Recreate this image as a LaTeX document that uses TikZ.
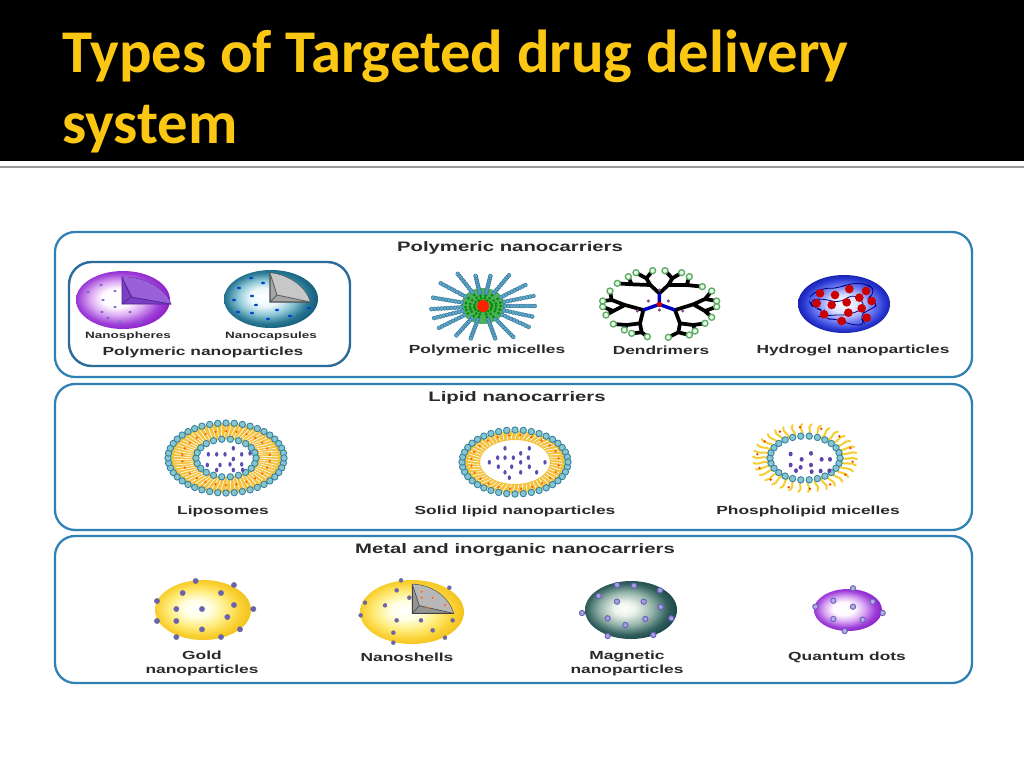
\documentclass[tikz,border=0pt]{standalone}
\usepackage{fontspec}
\setmainfont{Liberation Sans}
\newfontfamily\titlefont{Carlito}
\newfontfamily\labelfont[FakeStretch=1.48]{Liberation Sans}
\definecolor{titleyel}{HTML}{FCC713}
\definecolor{panelblue}{HTML}{2F80B4}
\definecolor{innerblue}{HTML}{2C6C9C}
\definecolor{labelink}{HTML}{2A2A2A}
\definecolor{beadfill}{HTML}{86C6D2}
\definecolor{beadedge}{HTML}{35809C}
\definecolor{lipyel}{HTML}{F3C23E}
\definecolor{cargo}{HTML}{5A4DB0}
\definecolor{dotblue}{HTML}{6A60C0}
\definecolor{dendgreen}{HTML}{5FA868}
\definecolor{cutpurple}{HTML}{7A3FC4}
\definecolor{cutlight}{HTML}{9A60D8}
\definecolor{cutdark}{HTML}{4E2490}
\definecolor{armblue}{HTML}{5FA8C8}
\definecolor{armedge}{HTML}{2F6E98}
\definecolor{coregreen}{HTML}{4FB05A}
\pgfdeclareradialshading{purpleball}{\pgfpoint{-4bp}{2bp}}{rgb(0bp)=(1,1,1);rgb(8bp)=(1,.98,1);rgb(15bp)=(.85,.65,.95);rgb(22bp)=(.62,.25,.85);rgb(27bp)=(.55,.12,.78);rgb(50bp)=(.55,.12,.78)}
\pgfdeclareradialshading{tealball}{\pgfpoint{-4bp}{2bp}}{rgb(0bp)=(1,1,1);rgb(8bp)=(.92,.97,.98);rgb(15bp)=(.55,.78,.84);rgb(22bp)=(.16,.47,.58);rgb(27bp)=(.07,.36,.47);rgb(50bp)=(.07,.36,.47)}
\pgfdeclareradialshading{blueball}{\pgfpoint{0bp}{0bp}}{rgb(0bp)=(1,1,1);rgb(8bp)=(.85,.87,1);rgb(16bp)=(.42,.48,.95);rgb(22bp)=(.16,.22,.82);rgb(25bp)=(.1,.14,.7);rgb(50bp)=(.1,.14,.7)}
\pgfdeclareradialshading{goldball}{\pgfpoint{-4bp}{1.5bp}}{rgb(0bp)=(1,1,1);rgb(7bp)=(1,1,.9);rgb(15bp)=(1,.93,.5);rgb(22bp)=(.98,.82,.2);rgb(27bp)=(.95,.76,.12);rgb(50bp)=(.95,.76,.12)}
\pgfdeclareradialshading{magball}{\pgfpoint{-4bp}{1.5bp}}{rgb(0bp)=(1,1,1);rgb(6bp)=(.92,.95,.92);rgb(14bp)=(.6,.72,.68);rgb(22bp)=(.2,.38,.37);rgb(27bp)=(.1,.27,.28);rgb(50bp)=(.1,.27,.28)}
\newcommand{\beadring}[5]{% cx cy rx ry n
  \foreach \i in {1,...,#5}{%
    \pgfmathsetmacro{\ang}{\i/#5*360}%
    \fill[beadfill,draw=beadedge,line width=.65pt] ({#1+#3*cos(\ang)},{#2+#4*sin(\ang)}) circle [radius=3.2];
  }}
\newcommand{\spikes}[6]{% cx cy rx1 ry1 rx2 n
  \foreach \i in {1,...,#6}{%
    \pgfmathsetmacro{\ang}{\i/#6*360}%
    \draw[white,line width=.45pt] ({#1+#3*cos(\ang)},{#2+#4*sin(\ang)}) -- ({#1+#5*cos(\ang+3)},{#2+(#4/#3)*#5*sin(\ang+3)});
  }}
\newcommand{\orangedots}[6]{% cx cy rx ry n colour
  \foreach \i in {1,...,#5}{%
    \pgfmathsetmacro{\ang}{\i/#5*360+7}%
    \fill[#6] ({#1+#3*cos(\ang)},{#2+#4*sin(\ang)}) circle [radius=1.3];
  }}
\tikzset{
  panelbox/.style={draw=panelblue,line width=1.7pt,rounded corners=15,fill=white},
  innerbox/.style={draw=innerblue,line width=1.8pt,rounded corners=17,fill=white},
  headlabel/.style={font=\labelfont\fontsize{10.3}{12}\selectfont\bfseries,text=labelink,inner sep=0pt,anchor=center},
  itemlabel/.style={font=\labelfont\fontsize{8.8}{9.9}\selectfont\bfseries,text=labelink,inner sep=0pt,anchor=center,align=center},
  smalllabel/.style={font=\labelfont\fontsize{6.85}{8}\selectfont\bfseries,text=labelink,inner sep=0pt,anchor=center},
  titletext/.style={font=\titlefont\fontsize{45.5}{50}\selectfont\bfseries,text=titleyel,inner sep=0pt,anchor=base west},
  dotmark/.style={fill=dotblue,draw=black!55,line width=.3pt},
  pale/.style={fill=white,draw=dotblue,line width=.7pt}
}
\begin{document}
\begin{tikzpicture}[x=.75pt,y=-.75pt]
\useasboundingbox (0,0) rectangle (1024,768);
\fill[white] (0,0) rectangle (1024,768);
\fill[black] (0,0) rectangle (1024,161);
\fill[black!40] (0,166) rectangle (1024,168);
\node[titletext] (title1) at (62,72) {Types of Targeted drug delivery};
\node[titletext] (title2) at (62,143) {system};
% panels
\draw[panelbox] (55,232) rectangle (972,377);
\draw[panelbox] (55,384) rectangle (972,530);
\draw[panelbox] (55,536) rectangle (972,683);
\draw[innerbox] (69,262) rectangle (350,366);
% headings
\node[headlabel] (h1) at (510,247.5) {Polymeric nanocarriers};
\node[headlabel] (h2) at (517,397.5) {Lipid nanocarriers};
\node[headlabel] (h3) at (515,549.5) {Metal and inorganic nanocarriers};
% item labels
\node[smalllabel] (l1) at (128,336) {Nanospheres};
\node[smalllabel] (l2) at (271,336) {Nanocapsules};
\node[itemlabel] (l3) at (203,352) {Polymeric nanoparticles};
\node[itemlabel] (l4) at (487,350) {Polymeric micelles};
\node[itemlabel] (l5) at (661,350) {Dendrimers};
\node[itemlabel] (l6) at (853,350) {Hydrogel nanoparticles};
\node[itemlabel] (l7) at (223,511) {Liposomes};
\node[itemlabel] (l8) at (515,511) {Solid lipid nanoparticles};
\node[itemlabel] (l9) at (808,511) {Phospholipid micelles};
\node[itemlabel] (l10) at (202,663.5) {Gold\\nanoparticles};
\node[itemlabel] (l11) at (407,657) {Nanoshells};
\node[itemlabel] (l12) at (627,663.5) {Magnetic\\nanoparticles};
\node[itemlabel] (l13) at (847,657) {Quantum dots};
% nanosphere
\shade[shading=purpleball] (123,300) ellipse [x radius=47,y radius=29];
\fill[cutpurple,draw=cutdark,line width=.5pt] (122,304) -- (122,277) .. controls (145,277) and (165,288) .. (171,304) -- cycle;
\fill[cutlight] (122,277) -- (133,297) -- (171,304) .. controls (165,288) and (145,277) .. (122,277);
\draw[cutdark,line width=.5pt] (122,277) -- (131,297) -- (122,304) (131,297) -- (171,304);
\foreach \p in {(101,285),(115,291),(103,300),(102,312),(88,292),(108,318),(130,312),(120,322),(140,322),(115,307)}
  \fill[cargo!85] \p ellipse [x radius=1.9,y radius=1.2];
% nanocapsule
\shade[shading=tealball] (271,299) ellipse [x radius=47,y radius=29];
\fill[black!35,draw=black!70,line width=.8pt] (270,273) .. controls (290,275) and (306,288) .. (310,302) -- (270,302) -- cycle;
\fill[black!22] (270,273) .. controls (290,275) and (306,288) .. (310,302) -- (277,295) -- cycle;
\draw[black!65,line width=.6pt] (270,273) -- (277,295) -- (270,302) (277,295) -- (310,302);
\foreach \p in {(251,278),(239,288),(263,283),(252,296),(234,300),(256,305),(277,310),(252,313),(268,319),(290,316),(309,308),(238,312)}
  \fill[blue!65!cyan!80!black] \p ellipse [x radius=2,y radius=1.3];
% polymeric micelle
\fill[coregreen] (483,306) ellipse [x radius=22,y radius=18];
\foreach \a/\l in {0/55,14/54,28/55,50/50,72/42,108/42,128/46,150/54,164/54,176/55,191/54,212/53,236/48,258/38,282/38,306/47,330/52,347/55}{
  \foreach \t in {.40,.46,...,1.0}
    \fill[armblue,draw=armedge,line width=.3pt] ({483+\l*\t*cos(\a)},{306+.86*\l*\t*sin(\a)}) circle [radius=2];
  \foreach \t in {.16,.24,.32}
    \fill[green!55!black] ({483+\l*\t*cos(\a)},{306+.86*\l*\t*sin(\a)}) circle [radius=1.5];
}
\fill[red!75!orange] (483,306) circle [radius=6];
% dendrimer
\begin{scope}[shift={(530,225)},x=.25pt,y=-.25pt]
  \draw[black,line width=2.8pt,line cap=round,line join=round]
    (388,205) -- (415,180) -- (427,160) -- (405,137) (427,160) -- (455,143)
    (415,180) -- (470,180) -- (478,155) (470,180) -- (517,185)
    (388,205) -- (361,180) -- (349,160) -- (368,137) (349,160) -- (318,143)
    (361,180) -- (305,178) -- (295,155) (305,178) -- (262,175)
    (435,255) -- (490,238) -- (525,222) -- (545,198) (525,222) -- (560,228)
    (490,238) -- (525,258) -- (560,245) (525,258) -- (545,277)
    (435,255) -- (450,295) -- (490,300) -- (525,295) (490,300) -- (495,318)
    (450,295) -- (445,322) -- (478,330) (445,322) -- (415,337)
    (340,255) -- (285,240) -- (245,225) -- (240,198) (245,225) -- (218,228)
    (285,240) -- (250,258) -- (218,245) (250,258) -- (228,270)
    (340,255) -- (330,295) -- (290,300) -- (250,297) (290,300) -- (283,315)
    (330,295) -- (335,322) -- (305,325) (335,322) -- (352,335);
  \draw[blue!75!black,line width=2.6pt] (388,238) -- (388,205) (388,238) -- (340,255) (388,238) -- (435,255);
  \fill[red!80!black] (388,238) circle [radius=8];
  \foreach \p in {(262,175),(295,155),(318,143),(368,137),(405,137),(455,143),(478,155),(517,185),(545,198),(560,228),(560,245),(545,277),(525,295),(495,318),(478,330),(415,337),(352,335),(305,325),(283,315),(250,297),(228,270),(218,245),(218,228),(240,198)}
    \fill[green!12,draw=dendgreen,line width=1pt] \p circle [radius=9];
  \foreach \p in {(388,195),(355,228),(415,228),(388,255),(322,258),(458,258)}
    \fill[violet!40!gray] \p circle [radius=5];
\end{scope}
% hydrogel
\shade[shading=blueball] (844,304) ellipse [x radius=46,y radius=29];
\begin{scope}[shift={(530,225)},x=.25pt,y=-.25pt]
  \draw[blue!50!black,line width=.6pt,rounded corners=6]
    (840,215) -- (870,190) -- (925,190) -- (958,175) -- (1010,175) -- (1040,200) -- (1005,225) -- (1050,235) -- (1020,255)
    -- (985,270) -- (1010,300) -- (960,300) -- (920,280) -- (880,285) -- (885,255) -- (850,250) -- (835,225) -- (880,220) -- (925,235) -- (975,205) -- (1010,245) -- (960,270) -- (905,270) -- (865,275);
  \foreach \p in {(870,205),(915,210),(958,192),(1008,198),(988,218),(1025,228),(860,235),(905,240),(950,232),(995,250),(955,263),(882,268),(935,288),(1010,278)}
    \fill[red!80!black] \p circle [radius=13];
\end{scope}
% liposome
\fill[lipyel,even odd rule] (226,458) ellipse [x radius=58,y radius=35] (226,458) ellipse [x radius=30,y radius=19];
\spikes{226}{458}{34}{21}{52}{70}
\orangedots{226}{458}{44}{27}{26}{orange!75!red}
\beadring{226}{458}{58}{35}{44}
\beadring{226}{458}{30}{19}{22}
\begin{scope}[shift={(150,385)},x=.25pt,y=-.25pt]
  \foreach \p in {(175,208),(200,208),(225,208),(250,190),(275,208),(300,205),(250,222),(172,240),(210,240),(240,238),(275,238),(200,255),(250,255),(278,255)}
    \fill[cargo] \p ellipse [x radius=5,y radius=7];
\end{scope}
% solid lipid
\fill[lipyel,even odd rule] (515,462) ellipse [x radius=51,y radius=31] (515,462) ellipse [x radius=35,y radius=22];
\spikes{515}{462}{36}{23}{47}{60}
\orangedots{515}{462}{44}{27}{24}{orange!75!red}
\beadring{515}{462}{53}{32}{40}
\begin{scope}[shift={(150,385)},x=.25pt,y=-.25pt]
  \foreach \p in {(1065,190),(1138,190),(1112,205),(1043,218),(1065,218),(1090,218),(1135,218),(1018,232),(1112,232),(1185,232),(1045,245),(1085,245),(1138,245),(1065,262),(1112,262),(1160,262),(1078,278)}
    \fill[cargo] \p ellipse [x radius=5,y radius=7];
\end{scope}
% phospholipid micelle
\foreach \i in {1,...,34}{
  \pgfmathsetmacro{\ang}{\i/34*360}
  \draw[lipyel!80!yellow,line width=1.5pt,line cap=round] ({805+36*cos(\ang)},{458+22*sin(\ang)}) .. controls ({805+45*cos(\ang+5)},{458+28*sin(\ang+5)}) and ({805+46*cos(\ang-4)},{458+29*sin(\ang-4)}) .. ({805+52*cos(\ang+2)},{458+34*sin(\ang+2)});
}
\orangedots{805}{458}{48}{31}{14}{red!60!orange}
\beadring{805}{458}{35}{22}{26}
\begin{scope}[shift={(700,410)},x=.25pt,y=-.25pt]
  \foreach \p in {(272,132),(305,148),(333,130),(365,148),(390,148),(272,165),(302,172),(333,165),(362,183),(388,182),(288,182),(335,185)}
    \fill[cargo!85!violet] \p ellipse [x radius=6,y radius=7];
\end{scope}
% gold
\shade[shading=goldball] (203,610) ellipse [x radius=48,y radius=30];
\begin{scope}[shift={(130,535)},x=.25pt,y=-.25pt]
  \foreach \p in {(197,138),(312,150),(158,174),(273,174),(81,198),(139,222),(216,222),(312,210),(370,222),(292,246),(81,258),(139,258),(216,283),(330,283),(139,306),(273,306)}
    \fill[dotmark] \p circle [radius=8];
\end{scope}
% nanoshell
\shade[shading=goldball] (412,612) ellipse [x radius=52,y radius=32];
\begin{scope}[shift={(130,535)},x=.25pt,y=-.25pt]
  \fill[black!42,draw=black!75,line width=.8pt] (847,235) -- (847,148) .. controls (905,150) and (955,185) .. (970,235) -- cycle;
  \fill[black!28] (847,148) .. controls (905,150) and (955,185) .. (970,235) -- (868,212) -- cycle;
  \draw[black!70,line width=.5pt] (847,148) -- (868,212) -- (847,235) (868,212) -- (970,235);
  \foreach \p in {(875,170),(908,188),(875,188),(945,210),(895,218)}
    \fill[orange!60!red!80] \p circle [radius=4];
  \foreach \p in {(813,136),(958,158),(800,166),(838,188),(705,203),(765,211),(692,241),(800,256),(873,256),(968,256),(790,293),(908,286),(945,308),(790,323)}
    \fill[dotmark] \p circle [radius=6];
\end{scope}
% magnetic
\shade[shading=magball] (631,610) ellipse [x radius=46,y radius=29];
\begin{scope}[shift={(540,535)},x=.25pt,y=-.25pt]
  \foreach \p in {(231,150),(282,152),(360,166),(176,183),(231,200),(311,200),(362,216),(126,234),(203,250),(316,252),(394,250),(256,270),(203,303),(340,300)}
    \fill[pale,fill=dotblue!60] \p circle [radius=8];
\end{scope}
% quantum dots
\shade[shading=purpleball] (848,610) ellipse [x radius=34,y radius=21];
\begin{scope}[shift={(540,535)},x=.25pt,y=-.25pt]
  \foreach \p in {(939,160),(880,197),(998,200),(826,215),(939,215),(1028,234),(880,252),(968,254),(914,288)}
    \fill[pale,fill=dotblue!50] \p circle [radius=8];
\end{scope}
\end{tikzpicture}
\end{document}
